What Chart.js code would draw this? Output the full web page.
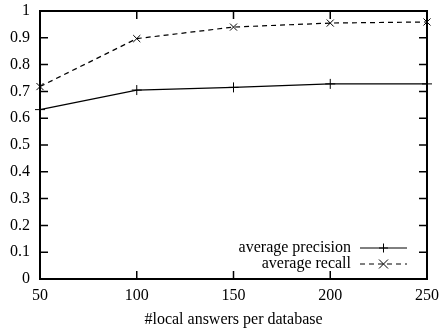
<!DOCTYPE html>
<html>
<head>
<meta charset="utf-8">
<script src="https://cdn.jsdelivr.net/npm/chart.js@4"></script>
<style>
  html, body { margin: 0; padding: 0; background: #fff; }
  #wrap { width: 443px; height: 333px; }
</style>
</head>
<body>
<div id="wrap"><canvas id="chart" width="443" height="333"></canvas></div>
<script>
// data
const xValues = [50, 100, 150, 200, 250];
const precision = [0.632, 0.705, 0.715, 0.728, 0.728];
const recall = [0.718, 0.897, 0.94, 0.955, 0.959];
const seriesNames = ['average precision', 'average recall'];
const xTitle = '#local answers per database';

const FONT = 'Liberation Serif, Times New Roman, serif';

// gnuplot-like frame with inward ticks on all four sides
const framePlugin = {
    id: 'frame',
    afterDatasetsDraw(chart) {
        const { ctx, chartArea: a, scales } = chart;
        ctx.save();
        ctx.strokeStyle = '#000';
        ctx.lineWidth = 1.5;
        ctx.beginPath();
        scales.x.ticks.forEach((t, i) => {
            const px = scales.x.getPixelForTick(i);
            ctx.moveTo(px, a.bottom); ctx.lineTo(px, a.bottom - 8);
            ctx.moveTo(px, a.top); ctx.lineTo(px, a.top + 8);
        });
        scales.y.ticks.forEach((t, i) => {
            const py = scales.y.getPixelForTick(i);
            ctx.moveTo(a.left, py); ctx.lineTo(a.left + 8, py);
            ctx.moveTo(a.right, py); ctx.lineTo(a.right - 8, py);
        });
        ctx.stroke();
        ctx.lineWidth = 2;
        ctx.strokeRect(a.left, a.top, a.right - a.left, a.bottom - a.top);
        ctx.restore();
    }
};

// legend drawn inside the plot, bottom right, text left of the sample
const legendPlugin = {
    id: 'insideLegend',
    afterDraw(chart) {
        const { ctx, chartArea: a } = chart;
        const sx0 = a.right - 67, sx1 = a.right - 20;
        ctx.save();
        ctx.font = '16px ' + FONT;
        ctx.fillStyle = '#000';
        ctx.textAlign = 'right';
        ctx.textBaseline = 'middle';
        chart.data.datasets.forEach((ds, i) => {
            const y = a.bottom - 31 + i * 16;
            ctx.fillText(ds.label, sx0 - 9, y);
            ctx.strokeStyle = '#000';
            ctx.lineWidth = 1;
            ctx.setLineDash(ds.borderDash || []);
            ctx.beginPath();
            ctx.moveTo(sx0, y); ctx.lineTo(sx1, y);
            ctx.stroke();
            ctx.setLineDash([]);
            const mx = (sx0 + sx1) / 2, r = 4.5;
            ctx.beginPath();
            if (ds.pointStyle === 'cross') {
                ctx.moveTo(mx - r, y); ctx.lineTo(mx + r, y);
                ctx.moveTo(mx, y - r); ctx.lineTo(mx, y + r);
            } else {
                ctx.moveTo(mx - r, y - r); ctx.lineTo(mx + r, y + r);
                ctx.moveTo(mx - r, y + r); ctx.lineTo(mx + r, y - r);
            }
            ctx.stroke();
        });
        ctx.restore();
    }
};

new Chart(document.getElementById('chart'), {
    type: 'line',
    data: {
        datasets: [{
            label: seriesNames[0],
            data: xValues.map((x, i) => ({ x: x, y: precision[i] })),
            borderColor: '#000',
            borderWidth: 1.2,
            pointStyle: 'cross',
            pointRadius: 5,
            pointBorderColor: '#000',
            pointBorderWidth: 1,
            tension: 0,
            clip: false
        }, {
            label: seriesNames[1],
            data: xValues.map((x, i) => ({ x: x, y: recall[i] })),
            borderColor: '#000',
            borderWidth: 1.2,
            borderDash: [5, 4],
            pointStyle: 'crossRot',
            pointRadius: 5,
            pointBorderColor: '#000',
            pointBorderWidth: 1,
            tension: 0,
            clip: false
        }]
    },
    options: {
        responsive: false,
        animation: false,
        layout: { padding: { top: 11, right: 16, left: 0, bottom: 0 } },
        plugins: {
            legend: { display: false },
            tooltip: { enabled: false }
        },
        scales: {
            x: {
                type: 'linear',
                min: 50,
                max: 250,
                afterFit(scale) {
                    scale.height = 54;
                    scale.paddingLeft = 0;
                    scale.paddingRight = 0;
                },
                grid: { display: false, drawTicks: false },
                border: { display: false },
                ticks: {
                    stepSize: 50,
                    autoSkip: false,
                    maxRotation: 0,
                    padding: 7,
                    color: '#000',
                    font: { family: FONT, size: 16 }
                },
                title: {
                    display: true,
                    text: xTitle,
                    color: '#000',
                    padding: { top: 0, bottom: 4 },
                    font: { family: FONT, size: 16 }
                }
            },
            y: {
                min: 0,
                max: 1,
                afterFit(scale) {
                    scale.width = 40;
                    scale.paddingTop = 0;
                    scale.paddingBottom = 0;
                },
                grid: { display: false, drawTicks: false },
                border: { display: false },
                ticks: {
                    stepSize: 0.1,
                    padding: 10,
                    color: '#000',
                    font: { family: FONT, size: 16 },
                    callback: v => Math.round(v * 10) / 10
                }
            }
        }
    },
    plugins: [framePlugin, legendPlugin]
});
</script>
</body>
</html>
